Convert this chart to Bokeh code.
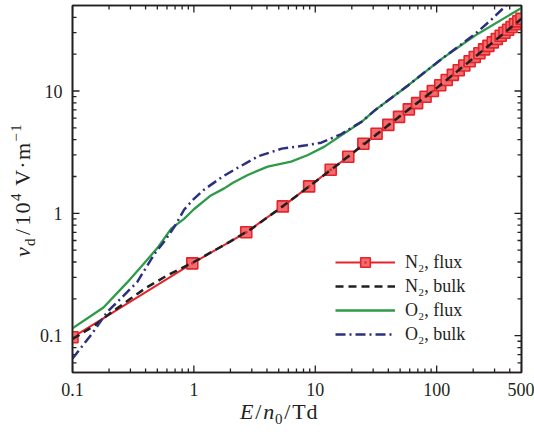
import math
from bokeh.plotting import figure
from bokeh.models import (FixedTicker, LogAxis, Legend, LegendItem, Range1d, Div,
                          ColumnDataSource)
from bokeh.layouts import row, column
from bokeh.embed import file_html
from bokeh.resources import INLINE

# ---------------- data ----------------
n2_flux_E = [0.1, 0.97, 2.7, 5.4, 8.9, 13.4, 18.7, 24.9, 32, 40, 49, 59, 69, 81, 93,
             107, 121, 136, 152, 169, 187, 206, 225, 246, 267, 290, 313, 337, 362,
             388, 414, 442, 471, 500]
n2_flux_v = [0.097, 0.39, 0.70, 1.14, 1.66, 2.27, 2.90, 3.71, 4.47, 5.29, 6.15, 7.08,
             7.96, 8.98, 10.0, 11.15, 12.3, 13.55, 14.8, 16.15, 17.5, 18.97, 20.35,
             21.9, 23.4, 25.0, 26.6, 28.3, 29.9, 31.7, 33.4, 35.2, 37.1, 38.9]

n2_bulk_E = [0.1, 0.15, 0.2, 0.3, 0.4, 0.6, 1.0, 2, 3, 5, 10, 20, 50, 100, 200, 500]
n2_bulk_v = [0.094, 0.12, 0.15, 0.20, 0.245, 0.31, 0.40, 0.59, 0.75, 1.08, 1.81,
             3.07, 6.25, 10.56, 18.5, 38.9]

o2_flux_E = [0.1, 0.18, 0.28, 0.38, 0.5, 0.65, 0.83, 1.0, 1.38, 1.78, 2.1, 2.78,
             4.06, 6.33, 8.7, 11.9, 16.4, 24.1, 30.9, 58.2, 110, 206, 500]
o2_flux_v = [0.115, 0.17, 0.27, 0.38, 0.52, 0.75, 0.90, 1.08, 1.40, 1.60, 1.78, 2.06,
             2.41, 2.65, 3.0, 3.51, 4.35, 5.59, 6.95, 11.1, 18.3, 28.3, 47.8]

o2_bulk_E = [0.1, 0.145, 0.193, 0.34, 0.47, 0.585, 0.71, 0.83, 0.98, 1.21, 1.73, 2.2,
             3.4, 5.3, 8.4, 11.2, 16.4, 24, 31, 58, 110, 206, 283, 370, 500]
o2_bulk_v = [0.065, 0.104, 0.156, 0.273, 0.46, 0.61, 0.81, 1.07, 1.29, 1.56, 2.0, 2.3,
             2.93, 3.38, 3.6, 3.78, 4.45, 5.6, 6.95, 11.1, 18.3, 29.1, 38.4, 49.6, 64]

series_labels = ["N\u2082, flux", "N\u2082, bulk", "O\u2082, flux", "O\u2082, bulk"]

X_LO, X_HI = 0.1, 500
Y_LO, Y_HI = 0.05, 50
x_major = [0.1, 1, 10, 100, 500]
x_labels = ["0.1", "1", "10", "100", "500"]
x_minor = [0.2, 0.3, 0.4, 0.5, 0.6, 0.7, 0.8, 0.9, 2, 3, 4, 5, 6, 7, 8, 9,
           20, 30, 40, 50, 60, 70, 80, 90, 200, 300, 400]
y_major = [0.1, 1, 10]
y_labels = ["0.1", "1", "10"]
y_minor = [0.06, 0.07, 0.08, 0.09, 0.2, 0.3, 0.4, 0.5, 0.6, 0.7, 0.8, 0.9,
           2, 3, 4, 5, 6, 7, 8, 9, 20, 30, 40]

x_title_html = "<i>E</i>/<i>n</i><sub>0</sub>/Td"
y_title_html = "<i>v</i><sub>d</sub>/10<sup>4</sup> V\u00b7m<sup>\u22121</sup>"

# ---------------- style ----------------
FONT = "Liberation Serif"
INK = "#231f20"
RED = "#e3242b"
PINK = "#f26b6e"
GREEN = "#2f9a48"
NAVY = "#2b2f7f"
MAJOR_LEN, MINOR_LEN = 7, 4

YDIV_W = 36
P_W = 534 - YDIV_W
P_H = 404
XDIV_H = 432 - P_H
B_LEFT, B_RIGHT, B_TOP, B_BOTTOM = 36, 13, 5, 32
FRAME_W = P_W - B_LEFT - B_RIGHT
FRAME_H = P_H - B_TOP - B_BOTTOM

p = figure(width=P_W, height=P_H, x_axis_type="log", y_axis_type="log",
           x_range=Range1d(X_LO, X_HI), y_range=Range1d(Y_LO, Y_HI),
           output_backend="svg", toolbar_location=None,
           min_border_left=B_LEFT, min_border_right=B_RIGHT, min_border_top=B_TOP,
           min_border_bottom=B_BOTTOM)
p.xgrid.visible = False
p.ygrid.visible = False
p.outline_line_color = INK
p.outline_line_width = 1.6
p.background_fill_color = "white"
p.border_fill_color = "white"

xt = FixedTicker(ticks=x_major, minor_ticks=x_minor)
yt = FixedTicker(ticks=y_major, minor_ticks=y_minor)


def style_axis(ax, ticker, overrides, show):
    ax.ticker = ticker
    ax.axis_line_color = INK
    ax.axis_line_width = 1.6
    ax.major_tick_in = 0
    ax.major_tick_out = 0
    ax.minor_tick_in = 0
    ax.minor_tick_out = 0
    ax.major_tick_line_color = None
    ax.minor_tick_line_color = None
    ax.major_label_overrides = overrides
    if show:
        ax.major_label_text_font = FONT
        ax.major_label_text_font_size = "18px"
        ax.major_label_text_color = INK
        ax.major_label_standoff = 10
    else:
        ax.major_label_text_font_size = "0px"
        ax.major_label_standoff = 0


style_axis(p.xaxis[0], xt, dict(zip(x_major, x_labels)), True)
style_axis(p.yaxis[0], yt, dict(zip(y_major, y_labels)), True)
top = LogAxis()
right = LogAxis()
style_axis(top, xt, {v: "" for v in x_major}, False)
style_axis(right, yt, {v: "" for v in y_major}, False)
p.add_layout(top, "above")
p.add_layout(right, "right")

# inward ticks on all four sides, drawn as plain two-point polylines (the same
# kind of drawing as the data lines), from a hair inside the edge inwards
PX_PER_DEC_X = FRAME_W / math.log10(X_HI / X_LO)
PX_PER_DEC_Y = FRAME_H / math.log10(Y_HI / Y_LO)
NUDGE = 1.001
tk_xs, tk_ys = [], []


def add_ticks(vals, length, horizontal_edge):
    fx = 10 ** (length / PX_PER_DEC_X)
    fy = 10 ** (length / PX_PER_DEC_Y)
    for v in vals:
        if horizontal_edge:
            tk_xs.append([v, v]); tk_ys.append([Y_LO * NUDGE, Y_LO * fy])
            tk_xs.append([v, v]); tk_ys.append([Y_HI / NUDGE, Y_HI / fy])
        else:
            tk_xs.append([X_LO * NUDGE, X_LO * fx]); tk_ys.append([v, v])
            tk_xs.append([X_HI / NUDGE, X_HI / fx]); tk_ys.append([v, v])


add_ticks(x_major, MAJOR_LEN, True)
add_ticks(x_minor, MINOR_LEN, True)
add_ticks(y_major, MAJOR_LEN, False)
add_ticks(y_minor, MINOR_LEN, False)
p.multi_line(xs="xs", ys="ys", source=ColumnDataSource(dict(xs=tk_xs, ys=tk_ys)),
             line_color=INK, line_width=1.3)

# ---------------- series ----------------
r1 = p.line(n2_flux_E, n2_flux_v, line_color=RED, line_width=2)
s1 = p.scatter(n2_flux_E, n2_flux_v, marker="square_dot", size=11,
               line_color=RED, fill_color=PINK, line_width=1.6)
r2 = p.line(n2_bulk_E, n2_bulk_v, line_color=INK, line_width=2.5, line_dash="8 5")
r3 = p.line(o2_flux_E, o2_flux_v, line_color=GREEN, line_width=2.3)
r4 = p.line(o2_bulk_E, o2_bulk_v, line_color=NAVY, line_width=2.5,
            line_dash="10 4 2 4")

legend = Legend(items=[
    LegendItem(label=series_labels[0], renderers=[r1, s1]),
    LegendItem(label=series_labels[1], renderers=[r2]),
    LegendItem(label=series_labels[2], renderers=[r3]),
    LegendItem(label=series_labels[3], renderers=[r4]),
], location=(263, 26))
legend.label_text_font = FONT
legend.label_text_font_size = "18px"
legend.label_text_color = INK
legend.glyph_width = 60
legend.glyph_height = 24
legend.label_height = 24
legend.label_standoff = 10
legend.spacing = 0
legend.padding = 0
legend.margin = 0
legend.border_line_alpha = 0
legend.background_fill_alpha = 0
p.add_layout(legend)

# ---------------- axis titles (HTML, rich text) ----------------
BASE = f"font-family:'{FONT}';font-size:22px;line-height:20px;color:{INK};white-space:nowrap;"
SUB = "<sub style='font-size:15px;line-height:0;vertical-align:-5px'>"
SUP = "<sup style='font-size:15px;line-height:0;vertical-align:9px'>"


def rich(html, slash_pad):
    out = html.replace("<sub>", SUB).replace("<sup>", SUP)
    slash = f"<span style='padding:0 {slash_pad}px'>&#47;</span>"
    out = out.replace("</", "\u0000")
    out = out.replace("/", slash)
    return out.replace("\u0000", "</")


ydiv = Div(width=YDIV_W, height=432, margin=0, text=(
    f"<div style='position:relative;width:{YDIV_W}px;height:432px'>"
    f"<div style=\"position:absolute;left:13px;top:257px;transform:rotate(-90deg);"
    f"transform-origin:0 0;{BASE}letter-spacing:1.3px;\">"
    f"{rich(y_title_html, 2)}</div></div>"))
xdiv = Div(width=P_W, height=XDIV_H, margin=0, text=(
    f"<div style=\"position:relative;left:204px;top:-2px;{BASE}letter-spacing:0.8px;\">"
    f"{rich(x_title_html, 1)}</div>"))

page = row(ydiv, column(p, xdiv, spacing=0), spacing=0)

open("out.html", "w").write(file_html(page, INLINE))
